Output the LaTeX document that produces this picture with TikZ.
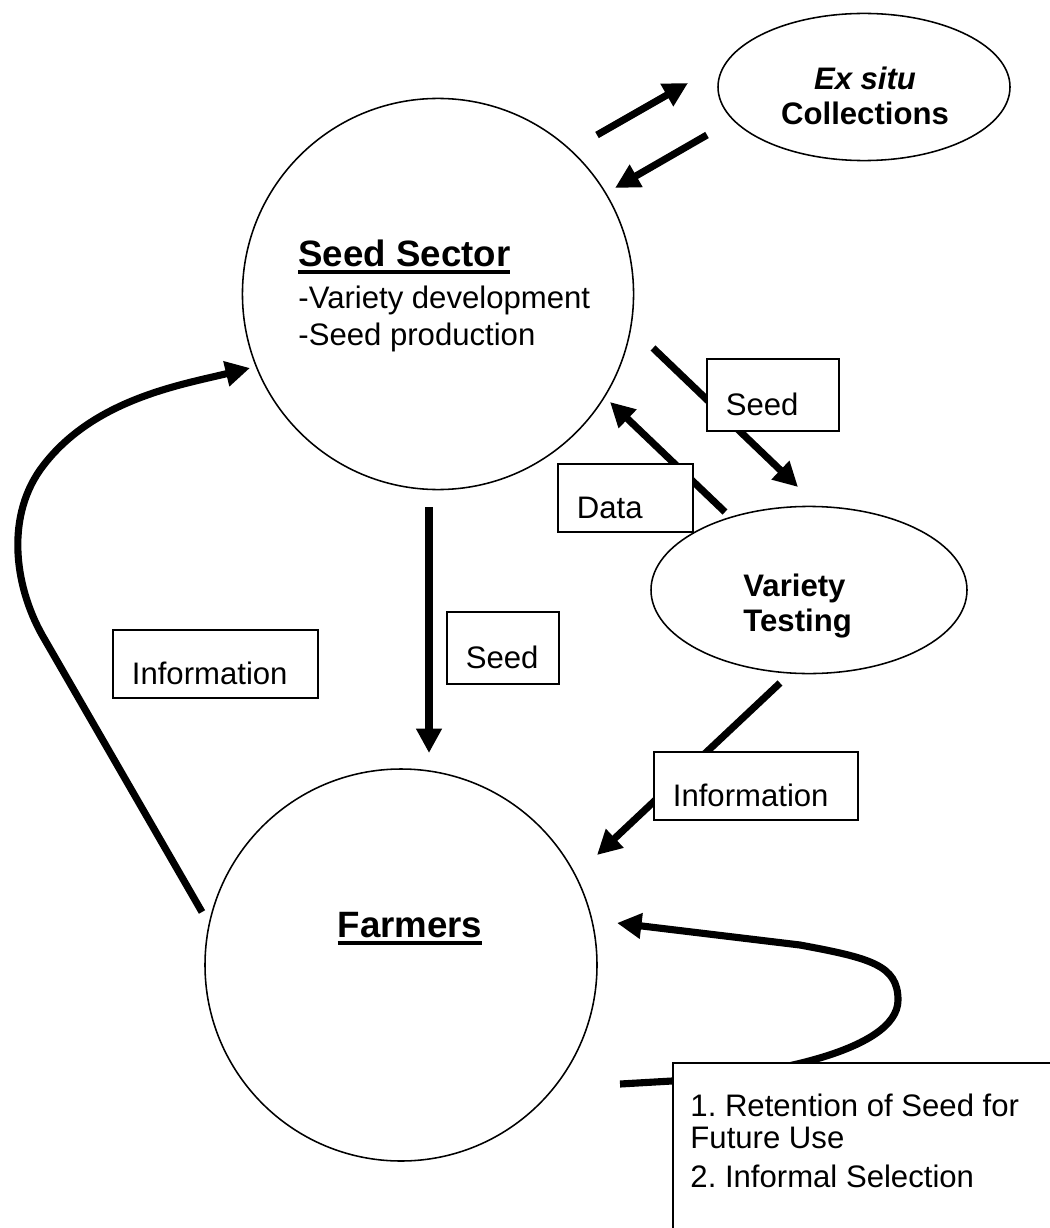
\documentclass[tikz,border=0pt]{standalone}
\usepackage{fontspec}
\setmainfont{Liberation Sans}
\usetikzlibrary{arrows.meta,shapes.geometric}
\frenchspacing

% bold heading with a heavy underline
\newcommand{\headline}[1]{\setbox0\hbox{#1}\rlap{#1}\rule[-3.5pt]{\wd0}{1.5pt}}

\begin{document}
\begin{tikzpicture}[
  x=0.45pt, y=-0.45pt,
  >={Triangle[length=11pt,width=11pt]},
  every node/.style={font=\fontsize{14}{16}\selectfont},
  bubble/.style={draw, circle, line width=0.7pt, minimum size=176pt,
              inner sep=0pt},
  oval/.style={draw, ellipse, line width=0.7pt, inner sep=0pt},
  ovaltext/.style={font=\bfseries\fontsize{14}{16}\selectfont,
              inner sep=0pt},
  heading/.style={font=\bfseries\fontsize{16.5}{19}\selectfont},
  plain/.style={inner sep=0pt, anchor=base west},
  tag/.style 2 args={draw, fill=white, line width=0.8pt, inner xsep=8.5pt,
              inner ysep=0pt, align=left, text width=#1, minimum height=#2,
              text height=18pt, text depth=0pt},
  flow/.style={->, line width=3.2pt},
]
  \useasboundingbox (0,0) rectangle (1050,1228);
  \clip (0,0) rectangle (1050,1228);

  % the four actors
  \node[bubble] (seed) at (438,294) {};
  \node[bubble, minimum size=176.4pt] (farm) at (401,965) {};
  \node[oval, minimum width=131.4pt, minimum height=66.2pt] (exsitu)
    at (864,87) {};
  \node[ovaltext, align=center] (exsitulbl) at (865,96)
    {\textit{Ex situ}\\Collections};
  \node[oval, minimum width=142.2pt, minimum height=75.2pt] (vtest)
    at (809,590) {};
  \node[ovaltext, align=left, anchor=west] (vtestlbl) at (743,606)
    {Variety\\Testing};

  \node[heading, plain] (seedtitle) at (298,266) {\headline{Seed Sector}};
  \node[plain] (seedvar) at (298,309) {-Variety development};
  \node[plain] (seedprod) at (298,345) {-Seed production};
  \node[heading, inner sep=0pt, anchor=base] (farmtitle) at (410,937)
    {\headline{Farmers}};

  % loose arrow ends
  \coordinate (exout) at (597,135);
  \coordinate (exin) at (688,83);
  \coordinate (exback) at (707,135);
  \coordinate (seedin) at (615,188);
  \coordinate (tstart) at (653,348);
  \coordinate (tend) at (798,487);
  \coordinate (dstart) at (725,512);
  \coordinate (dend) at (610,402);
  \coordinate (fstart) at (429,507);
  \coordinate (fend) at (429,753);
  \coordinate (istart) at (780,683);
  \coordinate (iend) at (597,855);
  \coordinate (lstart) at (202,912);
  \coordinate (lbend) at (45,640);
  \coordinate (ltip) at (250,368);
  \coordinate (loopstart) at (620,1084);
  \coordinate (looptip) at (617,923);

  % flows
  \draw[flow] (exout) -- (exin);
  \draw[flow] (exback) -- (seedin);

  \draw[flow] (tstart) -- (tend);
  \node[tag={42.4pt}{32.4pt}] (seedlbl) at (773,395) {Seed};

  \draw[flow] (dstart) -- (dend);
  \node[tag={43.75pt}{30.6pt}] (datalbl) at (625.5,498) {Data};

  \draw[flow] (fstart) -- (fend);
  \node[tag={33.4pt}{32.4pt}] (seedlbl2) at (503,648) {Seed};

  \node[tag={75.25pt}{30.6pt}] (infolbl) at (215.5,664) {Information};
  \draw[flow] (lstart) -- (lbend)
    .. controls (15,590) and (5,520) .. (40,470)
    .. controls (90,400) and (180,385) .. (ltip);

  \draw[flow] (istart) -- (iend);
  \node[tag={74.8pt}{30.6pt}] (infolbl2) at (756,786) {Information};

  \draw[flow] (loopstart) -- (672,1081)
    .. controls (760,1077) and (898,1052) .. (898,1000)
    .. controls (898,965) and (870,958) .. (800,945) -- (looptip);

  % retained seed box, runs off the page
  \node[draw, fill=white, line width=0.8pt, anchor=north west,
    minimum width=200pt, minimum height=100pt, inner sep=0pt]
    (usebox) at (672,1062) {};
  \node[plain] (use1) at (690,1116) {1. Retention of Seed for};
  \node[plain] (use2) at (690,1148) {Future Use};
  \node[plain] (use3) at (690,1187) {2. Informal Selection};
\end{tikzpicture}
\end{document}
